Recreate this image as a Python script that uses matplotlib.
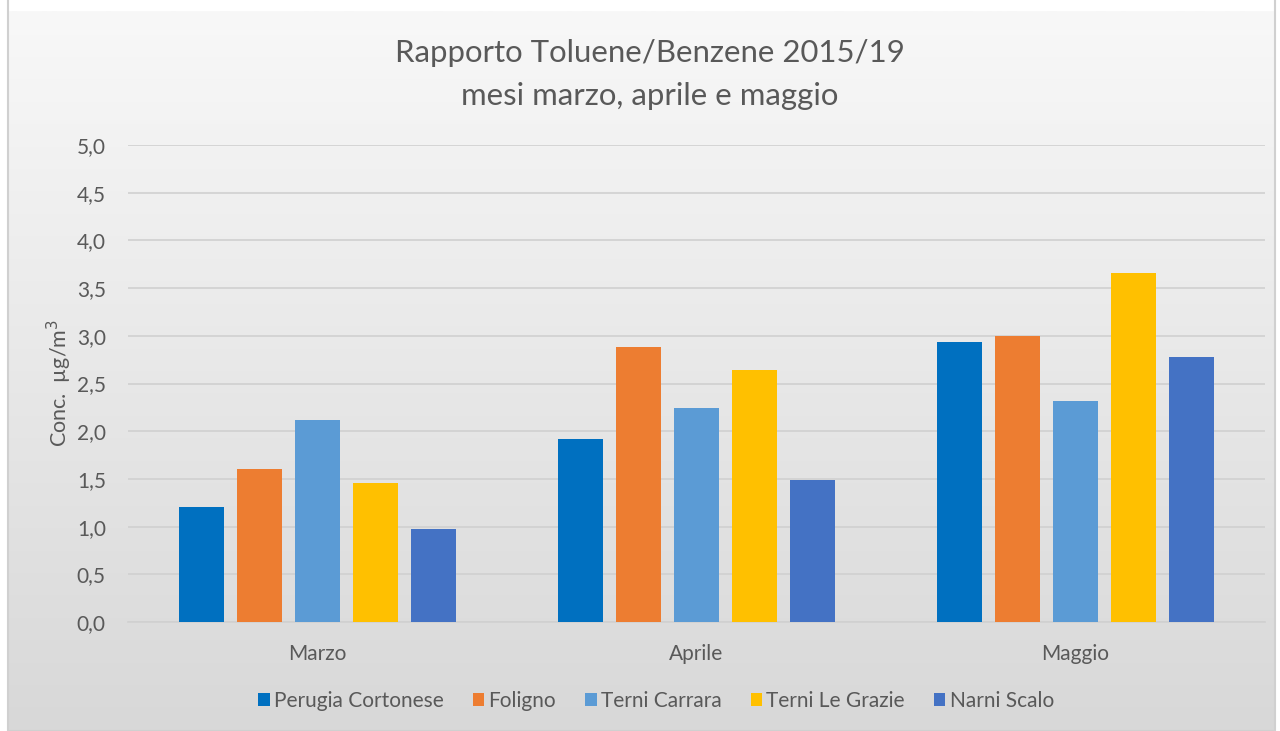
import numpy as np
import matplotlib.pyplot as plt
from matplotlib.colors import LinearSegmentedColormap
from matplotlib.patches import Rectangle

mesi = ["Marzo", "Aprile", "Maggio"]
stazioni = ["Perugia Cortonese", "Foligno", "Terni Carrara", "Terni Le Grazie", "Narni Scalo"]
perugia = [1.21, 1.92, 2.93]
foligno = [1.60, 2.88, 3.00]
terni_carrara = [2.12, 2.24, 2.32]
terni_grazie = [1.46, 2.64, 3.66]
narni = [0.97, 1.49, 2.78]
colori = ["#0070C0", "#ED7D31", "#5B9BD5", "#FFC000", "#4472C4"]
yticks = [0, 0.5, 1, 1.5, 2, 2.5, 3, 3.5, 4, 4.5, 5]

plt.rcParams['font.family'] = ['Lato', 'DejaVu Sans']
testo = "#595959"

W, H = 1280, 731
fig = plt.figure(figsize=(W / 100, H / 100), dpi=100)
fig.patch.set_facecolor("white")

# sfondo sfumato dell'area del grafico
bg = fig.add_axes([8 / W, 0, (1275 - 8) / W, (H - 11) / H], zorder=0)
grad = np.linspace(0, 1, 256).reshape(-1, 1)
bg.imshow(grad, aspect="auto", extent=[0, 1, 1, 0],
          cmap=LinearSegmentedColormap.from_list("g", ["#f8f8f8", "#d8d8d8"]))
bg.set_xlim(0, 1)
bg.set_ylim(1, 0)
bg.axis("off")
bg.add_patch(Rectangle((0, 0), 1, 1.02, fill=False, edgecolor="#d0d0d0", lw=1.5,
                       transform=bg.transAxes, clip_on=False))

ax = fig.add_axes([128 / W, (H - 622) / H, (1265 - 128) / W, (622 - 145) / H], zorder=1)
ax.set_facecolor("none")

serie = [perugia, foligno, terni_carrara, terni_grazie, narni]
x = np.arange(len(mesi))
passo = 0.153
largh = 0.121
for i, (nome, val) in enumerate(zip(stazioni, serie)):
    ax.bar(x + (i - 2) * passo, val, largh, color=colori[i], label=nome, zorder=3)

ax.set_xlim(-0.5, 2.5)
ax.set_ylim(0, 5)
ax.set_yticks(yticks)
ax.set_yticklabels([f"{v:.1f}".replace(".", ",") for v in yticks], color=testo, fontsize=15)
ax.set_xticks(x)
ax.set_xticklabels(mesi, color=testo, fontsize=15)
ax.tick_params(length=0, pad=16, axis="y")
ax.tick_params(length=0, pad=16, axis="x")
ax.grid(axis="y", color="#d0d0d0", lw=1.2, zorder=0)
for s in ["top", "right", "left"]:
    ax.spines[s].set_visible(False)
ax.spines["bottom"].set_color("#d0d0d0")
ax.spines["bottom"].set_linewidth(1.2)

ax.set_ylabel("Conc.  µg/m$^3$", color=testo, fontsize=15.5)
ax.yaxis.set_label_coords((74 - 128) / 1137, 0.5)

fig.text(650 / W, 1 - 53 / H, "Rapporto Toluene/Benzene 2015/19", ha="center", va="center",
         color=testo, fontsize=22.4)
fig.text(650 / W, 1 - 96 / H, "mesi marzo, aprile e maggio", ha="center", va="center",
         color=testo, fontsize=22.4)

fig.legend(loc="center", bbox_to_anchor=(656 / W, 1 - 701 / H), ncol=5, frameon=False,
           handlelength=0.55, handleheight=0.55, handletextpad=0.2, columnspacing=1.4,
           fontsize=15, labelcolor=testo)

fig.savefig("out.png", dpi=100)
